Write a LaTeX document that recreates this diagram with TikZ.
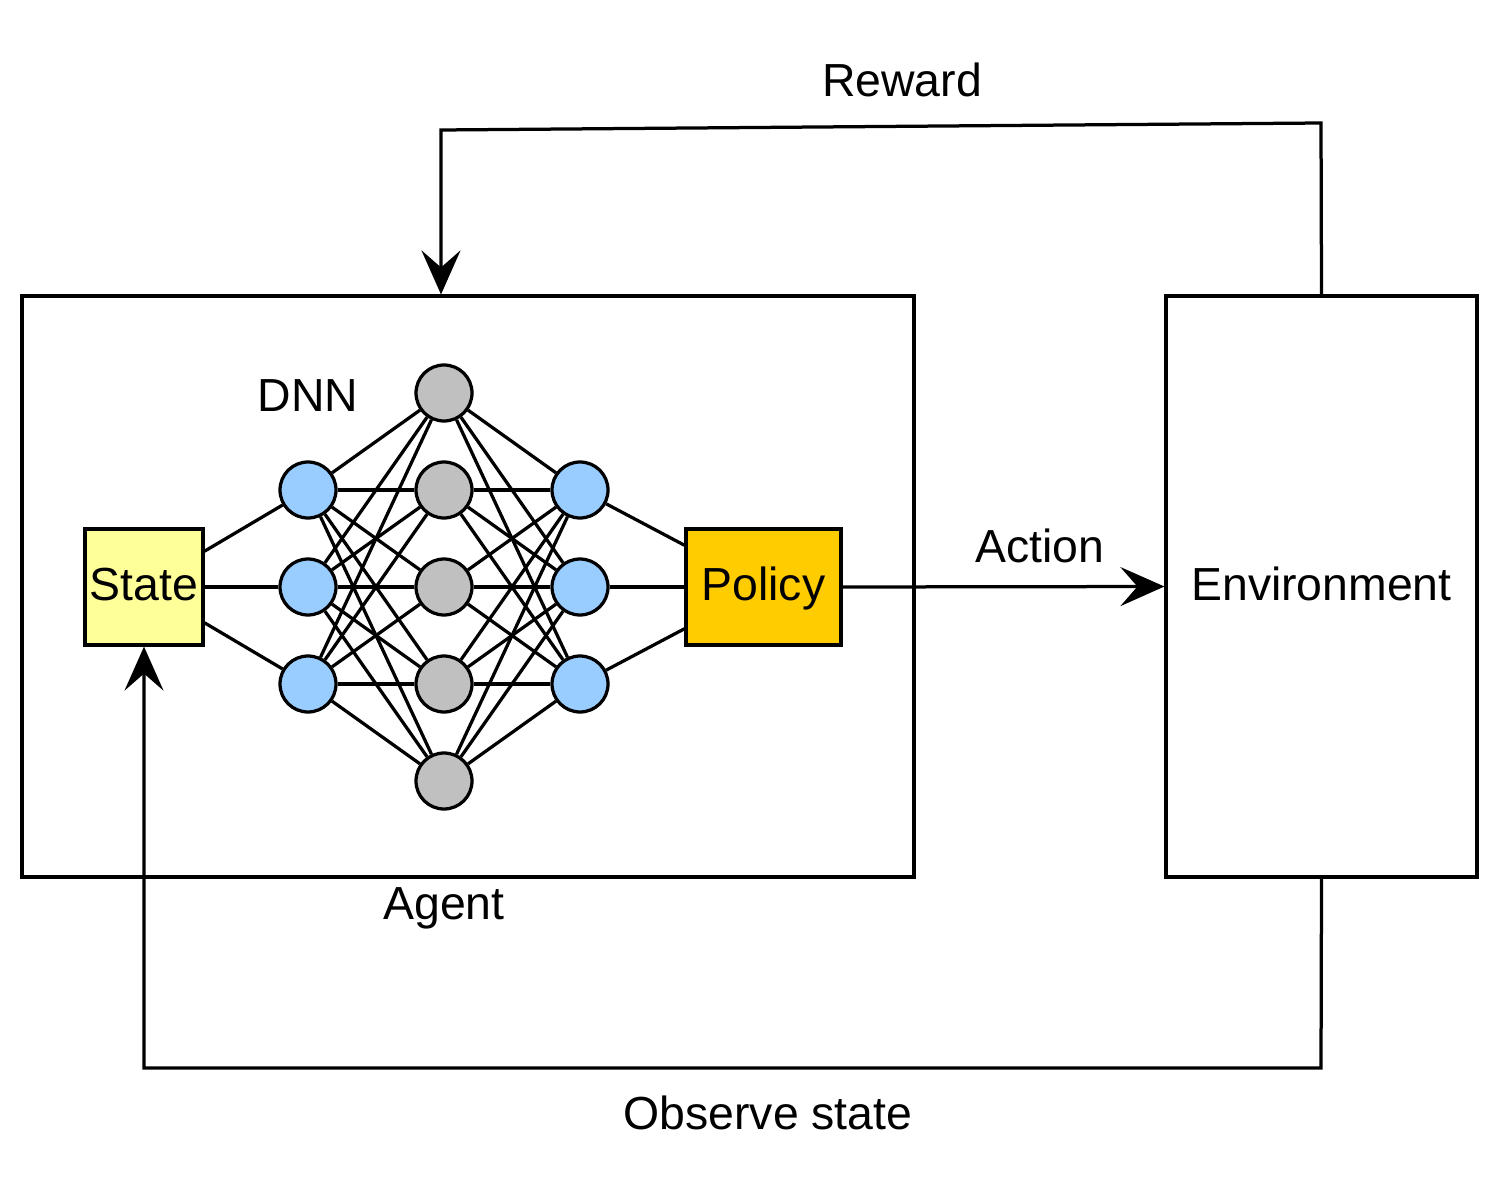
\documentclass[tikz,border=0pt]{standalone}
\usepackage{fontspec}
\setmainfont{Liberation Sans}
\usepackage{xcolor}
\usepackage{tikz}
\usetikzlibrary{arrows.meta,positioning}

\definecolor{neuronblue}{HTML}{99CCFF}
\definecolor{neurongray}{HTML}{C0C0C0}
\definecolor{stateyellow}{HTML}{FFFF99}
\definecolor{policyorange}{HTML}{FFCC00}

\begin{document}
\begin{tikzpicture}[
    x=0.02cm, y=-0.02cm,
    line width=0.065cm,
    font=\fontsize{26.4}{31}\selectfont,
    frame/.style={rectangle, draw, minimum height=11.62cm, inner sep=0pt, text height=0.7cm, text depth=0.15cm},
    iobox/.style={rectangle, draw, minimum height=2.32cm, inner sep=0pt, text height=0.7cm, text depth=0.15cm},
    neuron/.style={circle, draw, minimum size=1.12cm, inner sep=0pt},
    arrow/.style={-{Stealth[length=0.88cm, width=0.78cm, inset=0.34cm]}}
]
\useasboundingbox (0,0) rectangle (1500,1189);

% Nodes
\node[frame, minimum width=17.84cm] (agent) at (468,586.5) {};
\node[frame, minimum width=6.22cm] (env) at (1321.5,586.5) {Environment};
\node[iobox, fill=stateyellow, minimum width=2.36cm] (state) at (144,587) {State};
\node[iobox, fill=policyorange, minimum width=3.1cm] (policy) at (763.5,587) {Policy};

\foreach \n/\y in {1/490,2/587,3/684}
    \node[neuron, fill=neuronblue] (in\n) at (308,\y) {};
\foreach \n/\y in {1/393,2/490,3/587,4/684,5/781}
    \node[neuron, fill=neurongray] (hid\n) at (444,\y) {};
\foreach \n/\y in {1/490,2/587,3/684}
    \node[neuron, fill=neuronblue] (out\n) at (580,\y) {};

% Labels
\node (dnn) at (308,396) {DNN};
\node (agentlabel) at (444,908) {Agent};
\node (reward) at (902,80) {Reward};
\node (action) at (1040,546) {Action};
\node (observe) at (768,1113) {Observe state};

% Edges
\foreach \a in {1,2,3} {
    \draw (state) -- (in\a);
    \draw (out\a) -- (policy);
    \foreach \b in {1,...,5} {
        \draw (in\a) -- (hid\b);
        \draw (hid\b) -- (out\a);
    }
}

\coordinate (rewardtop) at (1321,123);
\coordinate (rewardcorner) at (441,130);
\coordinate (observeright) at (1321,1068);
\coordinate (observeleft) at (144,1068);

\draw[arrow] (policy.east) -- (env.west);
\draw[arrow] (env.north) -- (rewardtop) -- (rewardcorner) -- (rewardcorner |- agent.north);
\draw[arrow] (env.south) -- (observeright) -- (observeleft) -- (state.south);

\end{tikzpicture}
\end{document}
